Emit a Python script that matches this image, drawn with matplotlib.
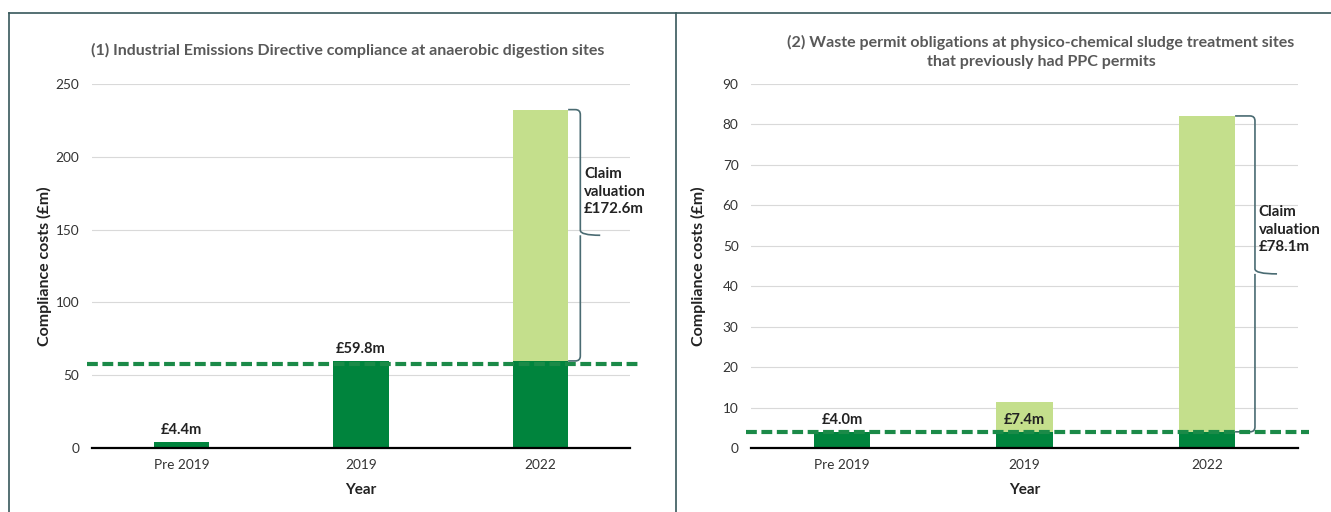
import matplotlib
matplotlib.use("Agg")
import matplotlib.pyplot as plt
from matplotlib.lines import Line2D
from matplotlib.path import Path
from matplotlib.patches import PathPatch
from matplotlib.transforms import IdentityTransform

plt.rcParams['font.family'] = ['Lato', 'DejaVu Sans']

# --- data -----------------------------------------------------------------
years = ['Pre 2019', '2019', '2022']

# (1) IED compliance at anaerobic digestion sites
ad_base = [4.4, 59.8, 59.8]        # existing compliance cost (£m)
ad_claim = [0.0, 0.0, 172.6]       # claim valuation on top (£m)
ad_threshold = 57.5
ad_labels = ['£4.4m', '£59.8m', None]
ad_claim_text = 'Claim\nvaluation\n£172.6m'

# (2) waste permit obligations at physico-chemical sludge treatment sites
pc_base = [4.0, 4.0, 4.0]
pc_extra = [0.0, 7.4, 78.1]
pc_threshold = 4.0
pc_labels = ['£4.0m', '£7.4m', None]
pc_claim_text = 'Claim\nvaluation\n£78.1m'

DARK = '#00843D'
LIGHT = '#C4DF8C'
DASH = '#1B8A48'
BRACE = '#4A6B72'
FRAME = '#37585B'

W, H = 1331, 512
fig = plt.figure(figsize=(W / 100, H / 100), dpi=100)


def fx(x):
    return x / W


def fy(y):
    return 1 - y / H


def brace(ax, x, y0, y1, x_edge, x_nub):
    """Curly bracket to the right of a bar, drawn in pixel space."""
    t = ax.transData
    xe, yb = t.transform((x_edge, y0))
    xb, yt = t.transform((x, y1))
    xn, ym = t.transform((x_nub, (y0 + y1) / 2))
    r = 5
    verts = [(xe, yt), (xb - r, yt), (xb, yt), (xb, yt - r),
             (xb, ym + r), (xb, ym), (xn, ym),
             (xb, ym), (xb, ym - r),
             (xb, yb + r), (xb, yb), (xb - r, yb), (xe, yb)]
    codes = [Path.MOVETO, Path.LINETO, Path.CURVE3, Path.CURVE3,
             Path.LINETO, Path.CURVE3, Path.CURVE3,
             Path.MOVETO, Path.CURVE3,
             Path.LINETO, Path.CURVE3, Path.CURVE3, Path.LINETO]
    ax.add_artist(PathPatch(Path(verts, codes), fill=False, edgecolor=BRACE,
                            lw=1.2, transform=IdentityTransform(), clip_on=False))


def panel(rect, base, extra, threshold, labels, ymax, ystep, claim_text,
          text_y, brace_x, nub_x):
    ax = fig.add_axes(rect)
    x = range(len(years))
    ax.bar(x, base, width=0.31, color=DARK, zorder=2)
    ax.bar(x, extra, width=0.31, bottom=base, color=LIGHT, zorder=2)
    ax.set_xlim(-0.5, 2.5)
    ax.set_ylim(0, ymax)
    ax.set_yticks(range(0, ymax + 1, ystep))
    ax.set_xticks(list(x))
    ax.set_xticklabels(years)
    ax.grid(axis='y', color='#D9D9D9', lw=0.8, zorder=0)
    ax.set_axisbelow(True)
    for s in ['left', 'right', 'top']:
        ax.spines[s].set_visible(False)
    ax.spines['bottom'].set_linewidth(1.6)
    ax.spines['bottom'].set_color('black')
    ax.spines['bottom'].set_zorder(4)
    ax.tick_params(length=0, labelsize=9.8, labelcolor='#333333')
    ax.tick_params(axis='y', pad=9)
    ax.tick_params(axis='x', pad=8)
    ax.set_ylabel('Compliance costs (£m)', fontsize=11.5, fontweight='bold', color='#222222')
    ax.set_xlabel('Year', fontsize=11, fontweight='bold', color='#222222')
    ax.xaxis.set_label_coords(0.5, -0.095)

    # threshold line running across the plot
    ax.plot([-0.53, 2.56], [threshold, threshold], color=DASH, lw=3,
            dashes=(2.6, 1.1), clip_on=False, zorder=3)

    for i, lab in enumerate(labels):
        if lab:
            ax.annotate(lab, (i, base[i]), xytext=(0, 3.5), textcoords='offset points',
                        ha='center', va='bottom', fontsize=10.5, fontweight='bold',
                        color='#222222', zorder=5)

    top = base[2] + extra[2]
    brace(ax, brace_x, base[2], top, 2.155, nub_x)
    ax.text(brace_x + 0.02, text_y, claim_text, ha='left', va='center',
            fontsize=10.8, fontweight='bold', color='#222222', linespacing=1.3)
    return ax


ax1 = panel([fx(92), fy(448), fx(538), 364 / H], ad_base, ad_claim, ad_threshold,
            ad_labels, 250, 50, ad_claim_text, 176, 2.223, 2.334)
ax1.yaxis.set_label_coords(-0.075, 0.5)

ax2 = panel([fx(751), fy(448), fx(547), 364 / H], pc_base, pc_extra, pc_threshold,
            pc_labels, 90, 10, pc_claim_text, 54, 2.264, 2.385)
ax2.yaxis.set_label_coords(-0.082, 0.5)

# titles
fig.text(fx(348), fy(50), '(1) Industrial Emissions Directive compliance at anaerobic digestion sites',
         ha='center', va='center', fontsize=11.5, fontweight='bold', color='#595959')
fig.text(fx(1041), fy(52), '(2) Waste permit obligations at physico-chemical sludge treatment sites\n'
         'that previously had PPC permits',
         ha='center', va='center', fontsize=11.5, fontweight='bold', color='#595959',
         linespacing=1.45)

# panel frames
fig.add_artist(Line2D([fx(9), 1], [fy(12.5), fy(12.5)], color=FRAME, lw=1.2))
fig.add_artist(Line2D([fx(9), fx(9)], [fy(12.5), 0], color=FRAME, lw=1.2))
fig.add_artist(Line2D([fx(676), fx(676)], [fy(12.5), 0], color=FRAME, lw=1.2))

fig.savefig('out.png', dpi=100)
